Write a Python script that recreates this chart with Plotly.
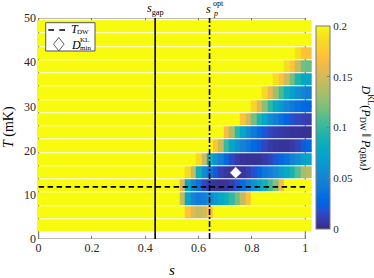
import plotly.graph_objects as go

# ---------------- data ----------------
T_grid = [3, 6, 9, 12, 15, 18, 21, 24, 27, 30, 33, 36, 39, 42, 45, 48]   # mK (row centres)
s_grid = [round(0.0032 + 0.0206 * j, 4) for j in range(50)]               # s (column centres)

Y = 0.2  # saturated (>= 0.2) cells
D_rows = {
    3:  [Y] * 50,
    6:  [Y] * 27 + [0.172, 0.155, 0.145, 0.15, 0.17] + [Y] * 18,
    9:  [Y] * 26 + [0.145, 0.075, 0.05, 0.042, 0.045, 0.055, 0.065, 0.075, 0.085, 0.1,
                    0.118, 0.145, 0.172] + [Y] * 11,
    12: [Y] * 26 + [0.155, 0.075, 0.05, 0.035, 0.015, 0.008, 0.005, 0.004, 0.005, 0.01,
                    0.02, 0.032, 0.045, 0.06, 0.075, 0.088, 0.105, 0.125, 0.165] + [Y] * 5,
    15: [Y] * 27 + [0.185, 0.145, 0.085, 0.055, 0.04, 0.022, 0.01, 0.006, 0.004, 0.004,
                    0.006, 0.01, 0.018, 0.028, 0.038, 0.045, 0.055, 0.07, 0.08, 0.09,
                    0.11, 0.135, 0.14],
    18: [Y] * 29 + [0.185, 0.148, 0.088, 0.06, 0.045, 0.03, 0.015, 0.008, 0.005, 0.004,
                    0.004, 0.005, 0.008, 0.012, 0.02, 0.028, 0.035, 0.048, 0.058, 0.07, 0.075],
    21: [Y] * 32 + [0.172, 0.145, 0.1, 0.075, 0.06, 0.048, 0.04, 0.03, 0.022, 0.014,
                    0.008, 0.006, 0.005, 0.005, 0.008, 0.012, 0.022, 0.028],
    24: [Y] * 34 + [0.165, 0.135, 0.098, 0.075, 0.055, 0.042, 0.03, 0.02, 0.014, 0.01,
                    0.008, 0.006, 0.005, 0.005, 0.004, 0.004],
    27: [Y] * 37 + [0.172, 0.148, 0.118, 0.092, 0.075, 0.058, 0.045, 0.035, 0.026, 0.018,
                    0.014, 0.011, 0.01],
    30: [Y] * 39 + [0.182, 0.155, 0.125, 0.098, 0.078, 0.064, 0.05, 0.042, 0.035, 0.03, 0.028],
    33: [Y] * 41 + [0.185, 0.16, 0.132, 0.105, 0.085, 0.07, 0.058, 0.05, 0.045],
    36: [Y] * 43 + [0.188, 0.17, 0.148, 0.118, 0.092, 0.078, 0.075],
    39: [Y] * 45 + [0.188, 0.172, 0.145, 0.118, 0.115],
    42: [Y] * 47 + [0.188, 0.172, 0.17],
    45: [Y] * 50,
    48: [Y] * 50,
}
z = [D_rows[t] for t in T_grid]

s_gap = 0.437
s_opt = 0.641
T_DW = 11.8
s_min = [0.739]
T_min = [15.0]

cbar_ticks = [0, 0.05, 0.1, 0.15, 0.2]
cbar_text = ["0", "0.05", "0.1", "0.15", "0.2"]
x_ticks = [0, 0.2, 0.4, 0.6, 0.8, 1]
y_ticks = [0, 10, 20, 30, 40, 50]

# ---------------- style ----------------
parula_rgb = [
    (0.2081, 0.1663, 0.5292), (0.2116, 0.1898, 0.5777), (0.2123, 0.2138, 0.6270), (0.2081, 0.2386, 0.6771),
    (0.1959, 0.2645, 0.7279), (0.1707, 0.2919, 0.7792), (0.1253, 0.3242, 0.8303), (0.0591, 0.3598, 0.8683),
    (0.0117, 0.3875, 0.8820), (0.0060, 0.4086, 0.8828), (0.0165, 0.4266, 0.8786), (0.0329, 0.4430, 0.8720),
    (0.0498, 0.4586, 0.8641), (0.0629, 0.4737, 0.8554), (0.0723, 0.4887, 0.8467), (0.0779, 0.5040, 0.8384),
    (0.0793, 0.5200, 0.8312), (0.0749, 0.5375, 0.8263), (0.0641, 0.5570, 0.8240), (0.0488, 0.5772, 0.8228),
    (0.0343, 0.5966, 0.8199), (0.0265, 0.6137, 0.8135), (0.0239, 0.6287, 0.8038), (0.0231, 0.6418, 0.7913),
    (0.0228, 0.6535, 0.7768), (0.0267, 0.6642, 0.7607), (0.0384, 0.6743, 0.7436), (0.0590, 0.6838, 0.7254),
    (0.0843, 0.6928, 0.7062), (0.1133, 0.7015, 0.6859), (0.1453, 0.7098, 0.6646), (0.1801, 0.7177, 0.6424),
    (0.2178, 0.7250, 0.6193), (0.2586, 0.7317, 0.5954), (0.3022, 0.7376, 0.5712), (0.3482, 0.7424, 0.5473),
    (0.3953, 0.7459, 0.5244), (0.4420, 0.7481, 0.5033), (0.4871, 0.7491, 0.4840), (0.5300, 0.7491, 0.4661),
    (0.5709, 0.7485, 0.4494), (0.6099, 0.7473, 0.4337), (0.6473, 0.7456, 0.4188), (0.6834, 0.7435, 0.4044),
    (0.7184, 0.7411, 0.3905), (0.7525, 0.7384, 0.3768), (0.7858, 0.7356, 0.3633), (0.8185, 0.7327, 0.3498),
    (0.8507, 0.7299, 0.3360), (0.8824, 0.7274, 0.3217), (0.9139, 0.7258, 0.3063), (0.9450, 0.7261, 0.2886),
    (0.9739, 0.7314, 0.2666), (0.9938, 0.7455, 0.2403), (0.9990, 0.7653, 0.2164), (0.9955, 0.7861, 0.1967),
    (0.9880, 0.8066, 0.1794), (0.9789, 0.8271, 0.1633), (0.9697, 0.8481, 0.1475), (0.9626, 0.8705, 0.1309),
    (0.9589, 0.8949, 0.1132), (0.9598, 0.9218, 0.0948), (0.9661, 0.9514, 0.0755), (0.9763, 0.9831, 0.0538),
]
parula = [[i / (len(parula_rgb) - 1), "rgb(%d,%d,%d)" % tuple(round(c * 255) for c in rgb)]
          for i, rgb in enumerate(parula_rgb)]

FONT = "Liberation Serif"
AX = "#7a7a7a"
W, H = 374, 278
ML, MR, MT, MB = 37, 62, 18, 39
PW, PH = W - ML - MR, H - MT - MB


def px(xp):
    return (xp - ML) / PW


def py(yp):
    return (H - MB - yp) / PH


def ann(text, x, y, size=12, angle=0, xanchor="center", yanchor="middle"):
    return dict(text=text, x=px(x), y=py(y), xref="paper", yref="paper", showarrow=False,
                font=dict(family=FONT, size=size, color="black"), textangle=angle,
                xanchor=xanchor, yanchor=yanchor)


fig = go.Figure()
fig.add_trace(go.Heatmap(
    x=s_grid, y=T_grid, z=z, zmin=0, zmax=0.2, colorscale=parula, ygap=1,
    hoverinfo="skip",
    colorbar=dict(
        x=px(316.3), xanchor="left", xpad=0, y=py(127.5), yanchor="middle",
        lenmode="pixels", len=223, thickness=14, outlinecolor=AX, outlinewidth=1,
        tickvals=cbar_ticks, ticktext=cbar_text, ticks="inside", ticklen=3, tickcolor=AX,
        tickfont=dict(family=FONT, size=11, color="#262626"),
    ),
))
fig.add_trace(go.Scatter(x=[s_gap, s_gap], y=[0, 50], mode="lines",
                         line=dict(color="black", width=1.6), hoverinfo="skip"))
fig.add_trace(go.Scatter(x=[s_opt, s_opt], y=[0, 50], mode="lines",
                         line=dict(color="black", width=1.6, dash="6px,2px,2px,2px"), hoverinfo="skip"))
fig.add_trace(go.Scatter(x=[0, 1], y=[T_DW, T_DW], mode="lines",
                         line=dict(color="black", width=1.6, dash="5.5px,3.5px"), hoverinfo="skip"))
fig.add_trace(go.Scatter(x=s_min, y=T_min, mode="markers",
                         marker=dict(symbol="diamond", size=9, color="white",
                                     line=dict(color="#666", width=0.6)), hoverinfo="skip"))

axis_common = dict(showline=False, showgrid=False, zeroline=False, ticks="inside", ticklen=3,
                   tickcolor=AX, tickwidth=1, mirror="ticks", layer="below traces",
                   tickfont=dict(family=FONT, size=12, color="#262626"))

shapes = [
    dict(type="rect", xref="x", yref="y", x0=0, x1=1, y0=0, y1=50,
         line=dict(color=AX, width=1.2), layer="below"),
    # legend box
    dict(type="rect", xref="paper", yref="paper", x0=px(45.7), x1=px(95), y0=py(51), y1=py(22.7),
         line=dict(color="#555", width=1), fillcolor="white", layer="above"),
    dict(type="line", xref="paper", yref="paper", x0=px(48.3), x1=px(65.3), y0=py(30), y1=py(30),
         line=dict(color="black", width=1.6, dash="5.7px,5.3px"), layer="above"),
    dict(type="path", xref="paper", yref="paper",
         path="M {a},{b} L {c},{d} L {a},{e} L {f},{d} Z".format(
             a=px(58.8), b=py(37.5), c=px(64.0), d=py(44.2), e=py(50.9), f=px(53.6)),
         line=dict(color="#333", width=0.8), fillcolor="white", layer="above"),
]

annotations = [
    ann("<i>s</i>", 172, 270, size=15),
    ann("<i>T</i> (mK)", 9, 127, size=14, angle=-90),
    ann("<i>s</i><sub>gap</sub>", 155, 9, size=12),
    ann("<i>s</i>", 208, 9, size=12),
    ann("opt", 211.3, 3.2, size=8, xanchor="left"),
    ann("<i>p</i>", 211.0, 13.0, size=8, xanchor="left"),
    # legend text
    ann("<i>T</i>", 69, 28.8, size=12, xanchor="left"),
    ann("DW", 75.3, 31.9, size=7, xanchor="left"),
    ann("<i>D</i>", 69, 45, size=12, xanchor="left"),
    ann("KL", 77.5, 40.4, size=7, xanchor="left"),
    ann("min", 77.5, 48.0, size=7, xanchor="left"),
    # colorbar label
    ann("<i>D</i><sup>KL</sup>(<i>P</i><sub>DW</sub> \u2016 <i>P</i><sub>QBM</sub>)", 366.5, 127,
        size=12, angle=90),
]

fig.update_layout(
    width=W, height=H, margin=dict(l=ML, r=MR, t=MT, b=MB, pad=0),
    paper_bgcolor="white", plot_bgcolor="white", showlegend=False,
    xaxis=dict(range=[-0.006, -0.006 + PW / 266.7], tickvals=x_ticks, **axis_common),
    yaxis=dict(range=[0, 50], tickvals=y_ticks, **axis_common),
    shapes=shapes, annotations=annotations,
)

fig.write_html("out.html", config={"displayModeBar": False},
               post_script="document.body.style.margin='0';document.body.style.overflow='hidden';")
